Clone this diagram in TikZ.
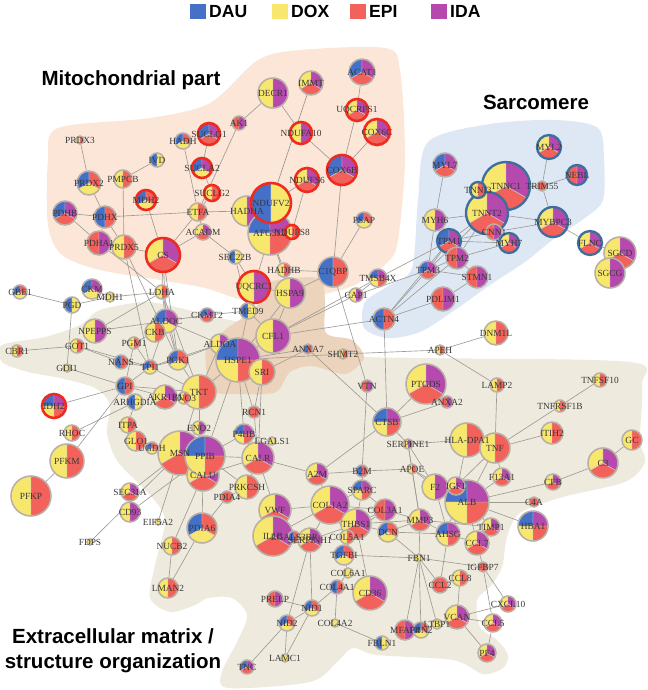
\documentclass[tikz,border=0pt]{standalone}
\usepackage{fontspec}
\setmainfont{Liberation Serif}
\newfontfamily\headfont{Liberation Sans}

\definecolor{dau}{HTML}{4470C8}
\definecolor{dox}{HTML}{F7E76C}
\definecolor{epi}{HTML}{F2615A}
\definecolor{ida}{HTML}{B549AE}
\definecolor{ringgray}{HTML}{B8AFA6}
\definecolor{ringred}{HTML}{EE2B1E}
\definecolor{ringblue}{HTML}{3D6E9E}
\definecolor{sepline}{HTML}{D2CAC2}
\definecolor{edgegray}{HTML}{9E9B97}
\definecolor{genetext}{HTML}{383838}
\definecolor{mitofill}{HTML}{FCE6D7}
\definecolor{tanfill}{HTML}{EBD3BC}
\definecolor{ecmfill}{HTML}{EEEADD}
\definecolor{sarcfill}{HTML}{DEE8F5}

\pgfdeclarelayer{regions}
\pgfdeclarelayer{edges}
\pgfdeclarelayer{labels}
\pgfsetlayers{regions,edges,main,labels}

\tikzset{
  pie ring/.style={circle, minimum size=#1, inner sep=0pt},
  graybd/.style={draw=ringgray, line width=1.3pt},
  redbd/.style={draw=ringred, line width=2.2pt},
  bluebd/.style={draw=ringblue, line width=2pt},
  gene/.style={font=\fontsize{8}{8}\selectfont, text=genetext, inner sep=0pt},
  edge/.style={draw=edgegray, line width=0.55pt},
  region title/.style={font=\headfont\bfseries\fontsize{17.5}{20}\selectfont},
  legend text/.style={font=\headfont\bfseries\fontsize{15}{17}\selectfont, inner sep=0pt}
}

% pie node: [ring] {name}{x,y}{radius px}{colours}{label}
\newcommand\pienode[6][graybd]{%
  \gdef\piecount{0}%
  \foreach \col in {#5} {\pgfmathtruncatemacro\tmp{\piecount+1}\global\let\piecount\tmp}%
  \pgfmathsetlengthmacro\pr{#4*0.3mm}%
  \pgfmathsetlengthmacro\pd{#4*0.6mm}%
  \foreach \col [count=\i] in {#5} {%
    \pgfmathsetmacro\sa{90+(\i-1)*360/\piecount}%
    \pgfmathsetmacro\sb{90+\i*360/\piecount}%
    \fill[fill=\col, draw=sepline, line width=0.4pt] (#3) -- ++(\sa:\pr)
      arc[start angle=\sa, end angle=\sb, radius=\pr] -- cycle;
  }%
  \node[pie ring=\pd, #1] (#2) at (#3) {};%
  \begin{pgfonlayer}{labels}\node[gene] at (#3) {#6};\end{pgfonlayer}%
}

\begin{document}
\begin{tikzpicture}[x=0.3mm, y=-0.3mm]
\useasboundingbox (0,0) rectangle (648,690);

% background regions
\begin{pgfonlayer}{regions}
\fill[ecmfill] plot[smooth cycle, tension=0.5] coordinates {(2,345) (45,337) (80,325) (100,310)
  (145,302) (180,308) (220,318) (270,328) (320,342) (360,356) (420,358) (630,362) (642,385)
  (640,440) (645,462) (625,482) (563,497) (520,513) (507,537) (502,567) (490,587) (477,600)
  (480,627) (497,640) (508,655) (503,668) (483,674) (453,660) (377,655) (353,648) (337,662)
  (310,682) (228,688) (222,672) (238,640) (247,615) (232,598) (208,598) (195,605) (170,612)
  (150,598) (155,565) (165,520) (150,495) (118,462) (107,433) (110,405) (95,388) (60,378)
  (28,372) (2,362)};
\fill[mitofill] plot[smooth cycle, tension=0.5] coordinates {(58,128) (150,118) (210,103)
  (258,60) (300,50) (385,48) (400,70) (405,160) (398,240) (388,262) (355,285) (322,295)
  (290,308) (262,305) (235,298) (205,288) (160,280) (100,270) (62,255) (48,225) (48,160)};
\fill[tanfill] plot[smooth cycle, tension=0.5] coordinates {(270,282) (318,278) (325,300)
  (326,333) (352,340) (364,358) (345,374) (312,366) (290,372) (276,392) (243,394) (212,390)
  (206,350) (225,330) (245,316) (262,300)};
\fill[sarcfill] plot[smooth cycle, tension=0.5] coordinates {(428,142) (490,124) (555,120)
  (598,128) (604,160) (603,200) (585,218) (555,238) (525,262) (490,285) (455,310) (420,332)
  (388,338) (364,328) (365,302) (390,285) (412,268) (418,200)};
\end{pgfonlayer}

% legend and titles
\foreach \col/\txt/\xx in {dau/DAU/190, dox/DOX/272, epi/EPI/350, ida/IDA/431} {
  \fill[\col] (\xx,4) rectangle ++(16,15);
  \node[legend text, anchor=west] (key-\txt) at (\xx+19,11.5) {\txt};
}
\node[region title] (mito-title) at (131,80) {Mitochondrial part};
\node[region title] (sarc-title) at (536,102) {Sarcomere};
\node[region title] (ecm-title1) at (113,636) {Extracellular matrix /};
\node[region title] (ecm-title2) at (113,663) {structure organization};

% mitochondrial part
\pienode{PRDX3}{80,140}{4}{dox,epi}{PRDX3}
\pienode{HADH}{183,141}{8}{dau,dox,epi}{HADH}
\pienode[redbd]{SUCLG1}{209,134}{11}{dau,epi,ida}{SUCLG1}
\pienode{IVD}{157,160}{7}{dau,dox}{IVD}
\pienode[redbd]{SUCLA2}{202,168}{10}{dau,dox,ida}{SUCLA2}
\pienode{PRDX2}{89,183}{12}{dau,dox,epi}{PRDX2}
\pienode{PMPCB}{123,179}{9}{dox,epi}{PMPCB}
\pienode[redbd]{MDH2}{146,200}{10}{dau,dox,epi}{MDH2}
\pienode[redbd]{SUCLG2}{212,193}{8}{dox,epi}{SUCLG2}
\pienode{PDHB}{65,213}{12}{dau,epi,ida}{PDHB}
\pienode{PDHX}{105,217}{11}{dau,epi}{PDHX}
\pienode{ETFA}{198,212}{9}{dox,epi}{ETFA}
\pienode{ACADM}{203,232}{8}{dox,epi,ida}{ACADM}
\pienode{PDHA1}{99,243}{12}{epi,ida}{PDHA1}
\pienode{PRDX5}{124,247}{12}{dox,epi}{PRDX5}
\pienode[redbd]{CS}{163,255}{17}{dox,epi,ida}{CS}
\pienode{DECR1}{273,93}{15}{dox,ida}{DECR1}
\pienode{IMMT}{311,83}{12}{dox,epi,ida}{IMMT}
\pienode{ACAT1}{362,72}{13}{dau,epi,ida}{ACAT1}
\pienode{AK1}{239,123}{7}{epi,ida}{AK1}
\pienode[redbd]{UQCRFS1}{357,110}{11}{dox,epi,ida}{UQCRFS1}
\pienode[redbd]{COX6C}{377,132}{13}{dox,epi,ida}{COX6C}
\pienode[redbd]{NDUFA10}{301,133}{11}{dox,ida}{NDUFA10}
\pienode[redbd]{COX6B}{342,170}{15}{dau,epi,ida}{COX6B}
\pienode[redbd]{NDUFS6}{307,180}{12}{dox,epi,ida}{NDUFS6}
\pienode{HADHA}{247,211}{15}{dox,ida}{HADHA}
\pienode{AFG3L2}{270,233}{22}{dau,dox,epi,ida}{AFG3L2}
\pienode[redbd]{NDUFV2}{271,203}{20}{dau,dox}{NDUFV2}
\pienode[redbd]{NDUFS8}{292,232}{7}{dox,epi}{NDUFS8}
\pienode{PSAP}{364,220}{8}{dau,dox,epi}{PSAP}
\pienode{SEC22B}{235,257}{7}{dau,dox}{SEC22B}
\pienode{HADHB}{284,270}{7}{dox,epi}{HADHB}
\pienode{C1QBP}{333,272}{15}{dau,epi}{C1QBP}
\pienode[redbd]{UQCRC1}{254,287}{16}{dox,ida}{UQCRC1}
\pienode{HSPA9}{290,293}{15}{dox,ida}{HSPA9}
\pienode{TMSB4X}{378,278}{9}{dau,dox,epi,ida}{TMSB4X}
\pienode{CAP1}{356,295}{7}{dox,ida}{CAP1}
\pienode{TMED9}{248,311}{8}{dau,dox}{TMED9}
\pienode{CFL1}{273,336}{17}{dox,ida}{CFL1}
\pienode{ANXA7}{308,349}{5}{dau,epi}{ANXA7}
\pienode{SHMT2}{343,354}{5}{dox,epi}{SHMT2}
\pienode{ALDOA}{220,344}{10}{dox,ida}{ALDOA}
\pienode{HSPE1}{238,360}{22}{dau,dox,epi,ida}{HSPE1}
\pienode{SRI}{262,372}{13}{dox,epi}{SRI}
\pienode{ACTN4}{384,319}{11}{dau,epi}{ACTN4}

% sarcomere
\pienode[bluebd]{MYL2}{549,147}{12}{dox,epi,ida}{MYL2}
\pienode{MYL7}{445,165}{12}{dau,epi,ida}{MYL7}
\pienode[bluebd]{NEBL}{577,175}{10}{epi,ida}{NEBL}
\pienode{TRIM55}{542,186}{5}{epi}{TRIM55}
\pienode[bluebd]{TNNC1}{506,186}{24}{dox,epi,ida}{TNNC1}
\pienode[bluebd]{TNNT2}{487,213}{21}{dox,epi,ida}{TNNT2}
\pienode[bluebd]{TNNI3}{478,190}{8}{dox,epi}{TNNI3}
\pienode{MYH6}{435,220}{11}{dox,ida}{MYH6}
\pienode[bluebd]{MYBPC3}{553,222}{15}{dox,epi,ida}{MYBPC3}
\pienode{CNN1}{494,232}{8}{epi,ida}{CNN1}
\pienode[bluebd]{TPM1}{449,241}{12}{dau,epi,ida}{TPM1}
\pienode[bluebd]{MYH7}{509,243}{10}{dox,epi,ida}{MYH7}
\pienode[bluebd]{FLNC}{590,243}{12}{dox,epi,ida}{FLNC}
\pienode{SGCD}{620,253}{16}{dox,epi,ida}{SGCD}
\pienode{SGCG}{610,273}{15}{dox,ida}{SGCG}
\pienode{TPM2}{457,258}{11}{epi,ida}{TPM2}
\pienode{TPM3}{428,270}{9}{dau,epi,ida}{TPM3}
\pienode{STMN1}{477,277}{11}{epi,ida}{STMN1}
\pienode{PDLIM1}{443,299}{12}{epi,ida}{PDLIM1}

% right middle
\pienode{DNM1L}{496,333}{12}{dox,epi}{DNM1L}
\pienode{APEH}{440,350}{5}{dox,epi}{APEH}
\pienode{LAMP2}{497,385}{7}{dox,epi}{LAMP2}
\pienode{TNFSF10}{600,380}{7}{dox,epi}{TNFSF10}
\pienode{TNFRSF1B}{560,406}{6}{dox,epi}{TNFRSF1B}
\pienode{ITIH2}{552,433}{11}{dox,epi}{ITIH2}
\pienode{GC}{632,440}{10}{dox,epi}{GC}
\pienode{C3}{603,463}{15}{dox,epi,ida}{C3}
\pienode{HLADPA1}{467,440}{17}{dox,epi}{HLA-DPA1}
\pienode{TNF}{495,448}{15}{dox,epi}{TNF}
\pienode{PTGDS}{426,384}{20}{dox,epi,ida}{PTGDS}
\pienode{ANXA2}{447,402}{6}{epi,ida}{ANXA2}
\pienode{VTN}{367,386}{6}{epi,ida}{VTN}
\pienode{CTSB}{387,422}{14}{dau,dox,epi,ida}{CTSB}
\pienode{SERPINE1}{408,444}{5}{dox,ida}{SERPINE1}

% metabolic cluster
\pienode{GBE1}{20,292}{7}{dau,dox,epi}{GBE1}
\pienode{CKM}{92,289}{10}{dau,dox,ida}{CKM}
\pienode{MDH1}{110,297}{5}{dox}{MDH1}
\pienode{PGD}{72,305}{8}{dau,dox}{PGD}
\pienode{LDHA}{162,292}{7}{dox,epi}{LDHA}
\pienode{CKMT2}{207,315}{7}{dau,epi,ida}{CKMT2}
\pienode{ALDOC}{166,321}{12}{dau,dox,ida}{ALDOC}
\pienode{CKB}{155,332}{10}{dox,epi}{CKB}
\pienode{NPEPPS}{95,331}{12}{dox,ida}{NPEPPS}
\pienode{PGM1}{134,343}{6}{dox,epi}{PGM1}
\pienode{GOT1}{77,346}{7}{dox,epi}{GOT1}
\pienode{CBR1}{17,351}{6}{dox,epi}{CBR1}
\pienode{NANS}{121,362}{7}{dau,epi}{NANS}
\pienode{PGK1}{178,360}{10}{dau,dox,epi}{PGK1}
\pienode{TPI1}{150,367}{7}{dau,dox,epi}{TPI1}
\pienode{GDI1}{67,368}{4}{dox}{GDI1}
\pienode{GPI}{125,386}{9}{dau,epi}{GPI}
\pienode{ARHGDIA}{135,402}{8}{dau,dox}{ARHGDIA}
\pienode{AKR1B1}{165,397}{12}{dox,epi,ida}{AKR1B1}
\pienode{TKT}{199,392}{17}{dox,epi}{TKT}
\pienode{ENO3}{184,398}{6}{dox,epi}{ENO3}
\pienode[redbd]{IDH2}{54,406}{12}{dau,dox,epi,ida}{IDH2}
\pienode{ITPA}{128,425}{8}{dox,epi}{ITPA}
\pienode{ENO2}{199,428}{7}{dox,ida}{ENO2}
\pienode{RHOC}{72,433}{8}{dox,epi}{RHOC}
\pienode{GLO1}{136,441}{10}{dox,epi}{GLO1}
\pienode{UGDH}{152,448}{6}{dau,dox,epi}{UGDH}
\pienode{MSN}{180,453}{22}{dox,epi,ida}{MSN}
\pienode{CALU}{203,475}{16}{dox,epi,ida}{CALU}
\pienode{PPIB}{205,456}{20}{dau,dox,epi,ida}{PPIB}
\pienode{PFKM}{67,461}{17}{dox,epi}{PFKM}
\pienode{PFKP}{31,496}{20}{dox,epi}{PFKP}
\pienode{SEC31A}{130,492}{9}{dox,epi,ida}{SEC31A}
\pienode{CD93}{130,512}{10}{dox,ida}{CD93}
\pienode{EIF5A2}{158,522}{3}{dox}{EIF5A2}
\pienode{FDPS}{90,542}{3}{dox}{FDPS}
\pienode{PDIA6}{202,528}{15}{dau,dox,epi}{PDIA6}
\pienode{NUCB2}{172,546}{9}{dox,epi}{NUCB2}
\pienode{LMAN2}{168,588}{10}{dox,epi}{LMAN2}
\pienode{RCN1}{254,412}{6}{epi}{RCN1}
\pienode{P4HB}{244,434}{10}{dau,dox,epi,ida}{P4HB}
\pienode{LGALS1}{272,441}{4}{dox}{LGALS1}
\pienode{CALR}{258,458}{16}{dox,epi,ida}{CALR}
\pienode{PRKCSH}{247,487}{12}{dox,epi}{PRKCSH}
\pienode{PDIA4}{227,497}{6}{epi}{PDIA4}

% extracellular matrix
\pienode{A2M}{317,474}{11}{dox,epi,ida}{A2M}
\pienode{B2M}{362,471}{6}{dau,epi}{B2M}
\pienode{APOE}{412,469}{5}{dox,epi}{APOE}
\pienode{SPARC}{362,490}{10}{dau,dox,epi,ida}{SPARC}
\pienode{ALB}{467,502}{22}{dau,dox,epi,ida}{ALB}
\pienode{F2}{435,487}{13}{dox,ida}{F2}
\pienode{IGF1}{456,486}{9}{dox,epi,ida}{IGF1}
\pienode{F13A1}{502,477}{9}{dox,epi,ida}{F13A1}
\pienode{CFB}{553,482}{8}{dox,epi,ida}{CFB}
\pienode{C4A}{534,502}{5}{epi}{C4A}
\pienode{HBA1}{533,526}{15}{dau,dox,epi,ida}{HBA1}
\pienode{VWF}{275,510}{16}{dox,epi,ida}{VWF}
\pienode{COL1A2}{330,505}{19}{dox,epi,ida}{COL1A2}
\pienode{COL3A1}{385,510}{11}{epi,ida}{COL3A1}
\pienode{MMP3}{420,520}{11}{dox,epi,ida}{MMP3}
\pienode{THBS1}{356,524}{15}{dox,epi,ida}{THBS1}
\pienode{TIMP1}{491,527}{9}{dox,epi,ida}{TIMP1}
\pienode{IL1B}{273,536}{20}{dox,epi,ida}{IL1B}
\pienode{LGALS3BP}{294,537}{6}{dau,epi}{LGALS3BP}
\pienode{SERPINH1}{310,540}{12}{dox,epi,ida}{SERPINH1}
\pienode{AHSG}{448,534}{12}{dau,dox,epi,ida}{AHSG}
\pienode{CCL7}{477,543}{12}{dox,epi,ida}{CCL7}
\pienode{COL5A1}{347,537}{7}{dox,epi}{COL5A1}
\pienode{DCN}{388,532}{10}{dau,dox,epi}{DCN}
\pienode{TGFBI}{344,555}{10}{dau,dox,epi}{TGFBI}
\pienode{FBN1}{419,558}{4}{dox}{FBN1}
\pienode{IGFBP7}{483,567}{5}{epi}{IGFBP7}
\pienode{COL6A1}{348,573}{5}{dox}{COL6A1}
\pienode{CCL8}{460,578}{8}{dox,epi}{CCL8}
\pienode{CCL2}{440,585}{8}{epi}{CCL2}
\pienode{COL4A1}{337,587}{7}{dau,epi}{COL4A1}
\pienode{CD36}{370,593}{17}{dox,epi,ida}{CD36}
\pienode{PRELP}{275,599}{8}{epi,ida}{PRELP}
\pienode{CXCL10}{508,604}{8}{dox,epi,ida}{CXCL10}
\pienode{NID1}{312,608}{8}{dau,dox,epi}{NID1}
\pienode{VCAN}{457,617}{12}{dox,epi,ida}{VCAN}
\pienode{CCL5}{493,623}{9}{dox,epi,ida}{CCL5}
\pienode{NID2}{287,623}{8}{dau,dox,epi}{NID2}
\pienode{COL4A2}{335,623}{4}{dox}{COL4A2}
\pienode{LTBP1}{437,624}{5}{dox}{LTBP1}
\pienode{MFAP4}{405,630}{10}{epi,ida}{MFAP4}
\pienode{FBN2}{421,630}{8}{dau,dox,epi}{FBN2}
\pienode{FBLN1}{382,643}{7}{dau,dox}{FBLN1}
\pienode{PF4}{487,653}{9}{dox,epi,ida}{PF4}
\pienode{LAMC1}{285,658}{4}{dox}{LAMC1}
\pienode{TNC}{247,667}{7}{dau,epi,ida}{TNC}

% interactions
\begin{pgfonlayer}{edges}
\foreach \p/\q in {PRDX3/PRDX2, PRDX2/PDHX, PMPCB/IVD, PMPCB/PRDX5, PDHB/PDHX, PDHB/PDHA1,
  PDHX/PDHA1, PDHX/PRDX5, PDHX/ETFA, MDH2/CS, HADH/ETFA, SUCLG1/SUCLA2, SUCLA2/SUCLG2,
  SUCLG2/ETFA, AK1/ETFA, DECR1/AK1, DECR1/NDUFA10, IMMT/NDUFV2, NDUFA10/COX6B,
  ACAT1/UQCRFS1, UQCRFS1/COX6B, COX6C/COX6B, COX6B/C1QBP, NDUFS6/NDUFV2, NDUFS6/NDUFS8,
  NDUFV2/HADHA, NDUFV2/AFG3L2, ETFA/HADHA, ETFA/ACADM, ACADM/CS, ACADM/SEC22B, ETFA/CS,
  PSAP/C1QBP, HADHB/AFG3L2, HADHB/C1QBP, HADHA/AFG3L2, AFG3L2/UQCRC1, AFG3L2/HSPA9,
  SEC22B/UQCRC1, SEC22B/TMED9, C1QBP/HSPA9, C1QBP/VTN, PRDX5/CS, PRDX5/TPI1, PRDX5/PGK1,
  PDHA1/LDHA, CS/ALDOC, CS/LDHA, CS/PGK1}
  \draw[edge] (\p) -- (\q);
\foreach \p/\q in {MYL7/MYH6, MYL2/TRIM55, NEBL/TRIM55, TRIM55/TNNC1, TRIM55/MYBPC3,
  TNNC1/TNNT2, TNNC1/TNNI3, TNNT2/TNNI3, TNNT2/MYH6, TNNT2/TPM1, TNNT2/TPM2, TNNT2/TPM3,
  TNNT2/CNN1, MYBPC3/CNN1, MYBPC3/FLNC, MYBPC3/TNNT2, FLNC/SGCD, SGCD/SGCG, TPM1/TPM2,
  TPM1/CNN1, TPM1/MYH6, TPM2/MYH7, TPM1/MYH7, TPM2/STMN1, TPM3/STMN1, TPM3/TPM2, TPM3/TPM1,
  PDLIM1/STMN1, PDLIM1/ACTN4, ACTN4/TPM1, ACTN4/TPM3, ACTN4/TPM2, ACTN4/CTSB, ACTN4/CFL1,
  TMSB4X/TPM1, TMSB4X/CAP1, CAP1/TPM3, MYH6/TPM3}
  \draw[edge] (\p) -- (\q);
\foreach \p/\q in {HSPE1/SHMT2, SHMT2/APEH, ANXA7/HSPE1, ANXA7/SRI, ANXA7/CTSB,
  APEH/DNM1L, APEH/LAMP2, LAMP2/TNF, TNF/TNFRSF1B, TNFRSF1B/TNFSF10, TNF/ITIH2,
  TNF/HLADPA1, TNF/F13A1, TNF/ALB, TNF/IGF1, GC/C3, C3/CFB, CFB/ALB, C4A/ALB, HBA1/ALB,
  ALB/F2, ALB/IGF1, ALB/AHSG, ALB/TIMP1, ALB/CCL7, ALB/F13A1, ALB/APOE, PTGDS/CTSB,
  PTGDS/ANXA2, ANXA2/CTSB, CTSB/SERPINE1, CTSB/A2M, VTN/B2M, SERPINE1/APOE, SERPINE1/F2,
  SERPINE1/MMP3, SERPINE1/HLADPA1, HLADPA1/AHSG}
  \draw[edge] (\p) -- (\q);
\foreach \p/\q in {A2M/B2M, A2M/CALR, A2M/COL1A2, B2M/APOE, APOE/F2, APOE/MMP3,
  SPARC/COL1A2, SPARC/THBS1, SPARC/COL3A1, SPARC/B2M, COL1A2/COL3A1, COL1A2/THBS1,
  COL1A2/VWF, COL1A2/IL1B, COL1A2/COL5A1, COL3A1/DCN, COL3A1/MMP3, COL3A1/THBS1,
  COL3A1/COL5A1, THBS1/COL5A1, THBS1/TGFBI, THBS1/DCN, THBS1/MMP3, DCN/MMP3, DCN/FBN1,
  MMP3/TIMP1, MMP3/FBN1, MMP3/AHSG, F2/AHSG, VWF/IL1B, VWF/CALR, IL1B/LGALS3BP,
  LGALS3BP/SERPINH1, SERPINH1/THBS1, SERPINH1/COL1A2, TGFBI/FBN1, TGFBI/COL6A1,
  COL6A1/COL4A1, COL4A1/COL4A2, COL4A1/NID1, COL4A1/CD36, NID1/NID2, NID1/PRELP,
  NID1/LAMC1, NID2/LAMC1, NID2/TNC, SERPINH1/NID1, SERPINH1/NID2, COL4A2/FBLN1,
  CD36/THBS1, FBN1/MFAP4, FBN1/LTBP1, FBN1/FBN2, FBN1/IGFBP7, FBN1/CCL2, IGFBP7/CXCL10,
  IGFBP7/CCL5, IGFBP7/CCL7, VCAN/CCL5, VCAN/CXCL10, VCAN/PF4, VCAN/CCL8, CCL5/PF4,
  CCL8/CCL2, CCL2/AHSG, CCL7/AHSG, VCAN/LTBP1, LTBP1/FBN2, MFAP4/FBN2, DCN/AHSG}
  \draw[edge] (\p) -- (\q);
\foreach \p/\q in {GBE1/PGD, PGD/MDH1, CKM/MDH1, MDH1/LDHA, PGD/GDI1, CBR1/GOT1,
  GOT1/NANS, GOT1/TPI1, GDI1/GPI, IDH2/GPI, NPEPPS/LDHA, NPEPPS/ALDOC, PGM1/GPI,
  PGM1/TPI1, NANS/TPI1, ALDOC/CKB, ALDOC/PGK1, ALDOC/TPI1, ALDOC/CKMT2, CKMT2/TMED9,
  CKB/PGM1, LDHA/ALDOC, LDHA/PGK1, LDHA/TKT, GPI/TKT, GPI/AKR1B1, GPI/ARHGDIA, GPI/TPI1,
  ARHGDIA/RHOC, PFKM/GPI, PFKM/PFKP, TKT/ENO3, TKT/ENO2, TKT/PGK1, TKT/ALDOA, TKT/HSPE1,
  TKT/TPI1, TKT/MSN, TPI1/PGK1, ALDOA/HSPE1, ALDOA/PGK1, ALDOA/TPI1, ALDOA/ALDOC,
  AKR1B1/TKT, ENO2/MSN, ENO2/PPIB, GLO1/UGDH, GLO1/ITPA, MSN/PPIB, PPIB/CALU, CALU/CALR,
  PPIB/CALR, PPIB/P4HB, CALU/PDIA6, CALU/NUCB2, NUCB2/LMAN2, PDIA6/LMAN2, MSN/FDPS,
  MSN/SEC31A, MSN/EIF5A2, CD93/PPIB, HSPE1/SRI, HSPE1/CFL1, HSPE1/HSPA9, HSPE1/RCN1,
  HSPE1/P4HB, HSPE1/PPIB, SRI/RCN1, SRI/CALR, RCN1/CALR, P4HB/CALR, P4HB/LGALS1,
  LGALS1/CALR, CALR/PRKCSH, PRKCSH/PDIA4, PRKCSH/PPIB, PDIA4/PDIA6, TMED9/HSPE1,
  TMED9/CFL1, UQCRC1/HSPA9, HSPA9/CFL1, CFL1/CAP1, CFL1/TMSB4X, ITPA/ARHGDIA}
  \draw[edge] (\p) -- (\q);
\end{pgfonlayer}
\end{tikzpicture}
\end{document}
